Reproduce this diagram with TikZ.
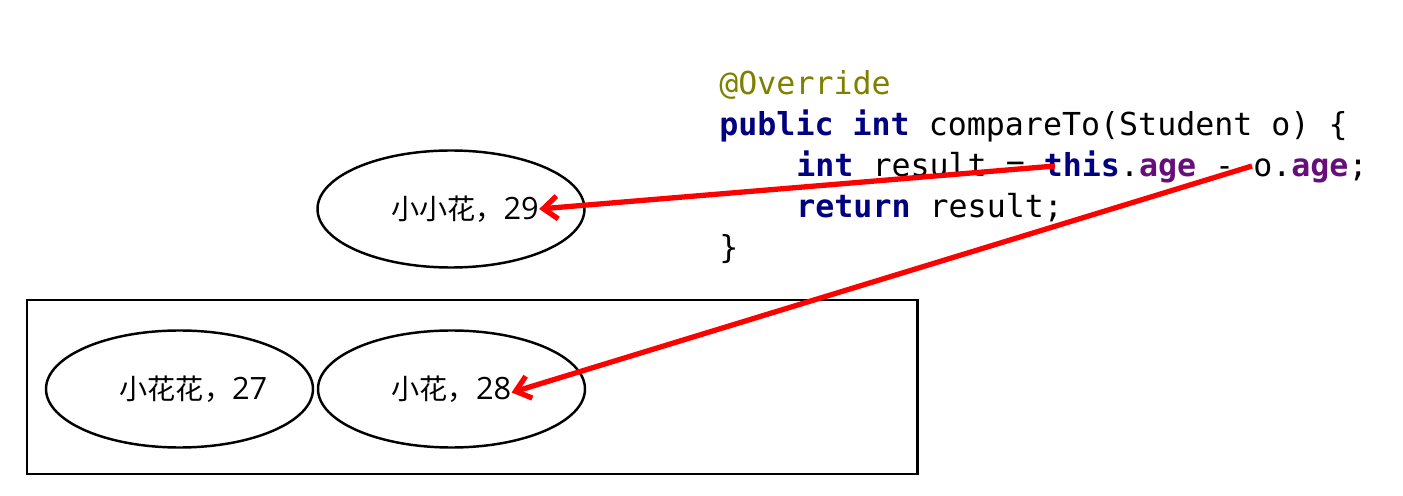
\documentclass[tikz,border=0pt]{standalone}
\usepackage{fontspec}
\usepackage{tikz}
\usetikzlibrary{arrows.meta,positioning,shapes.geometric}
\newfontfamily\codefont{DejaVu Sans Mono}
\newfontfamily\cjk{Noto Sans CJK SC}
\newfontfamily\numfont{Open Sans}
\newcommand\agenum[1]{{\numfont\fontsize{17.5}{18}\selectfont #1}}
\definecolor{annot}{RGB}{128,128,0}
\definecolor{kw}{RGB}{0,0,128}
\definecolor{field}{RGB}{102,14,122}
\definecolor{ptr}{RGB}{255,0,0}

\begin{document}
\begin{tikzpicture}[x=0.02cm,y=-0.02cm,
  stud/.style={draw,ellipse,line width=1.4pt,minimum width=267*0.02cm,minimum height=117*0.02cm,inner sep=0pt},
  lbl/.style={font=\cjk\fontsize{16}{18}\selectfont,inner sep=0pt},
  code/.style={font=\codefont\fontsize{18}{23}\selectfont,anchor=base west,inner sep=0pt},
  ptrarrow/.style={draw=ptr,line width=3pt,-{Straight Barb[length=8pt,width=13pt]}}]
  \useasboundingbox (0,0) rectangle (1403,496);
  % student nodes
  \node[stud] (s29) at (451,209) {};
  \node[lbl] (t29) at (465,209) {小小花，\agenum{29}};
  \draw[line width=1.7pt] (27,300) rectangle (917,474);
  \node[stud] (s27) at (179.5,389) {};
  \node[lbl] (t27) at (193.5,389) {小花花，\agenum{27}};
  \node[stud] (s28) at (451.5,389) {};
  \node[lbl] (t28) at (451.5,389) {小花，\agenum{28}};
  % code lines
  \node[code] (code1) at (719,95) {\color{annot}@Override};
  \node[code] (code2) at (719,136) {\textcolor{kw}{\bfseries public} \textcolor{kw}{\bfseries int} compareTo(Student o) \{};
  \node[code] (code3) at (796,177) {\textcolor{kw}{\bfseries int} result = \textcolor{kw}{\bfseries this}.\textcolor{field}{\bfseries age} - o.\textcolor{field}{\bfseries age};};
  \node[code] (code4) at (796,218) {\textcolor{kw}{\bfseries return} result;};
  \node[code] (code5) at (719,259) {\}};
  \coordinate (thisage) at (1055,166);
  \coordinate (oage) at (1252,166);
  \draw[ptrarrow] (thisage) -- (t29.east);
  \draw[ptrarrow] (oage) -- ([yshift=-2pt]t28.east);
\end{tikzpicture}
\end{document}
